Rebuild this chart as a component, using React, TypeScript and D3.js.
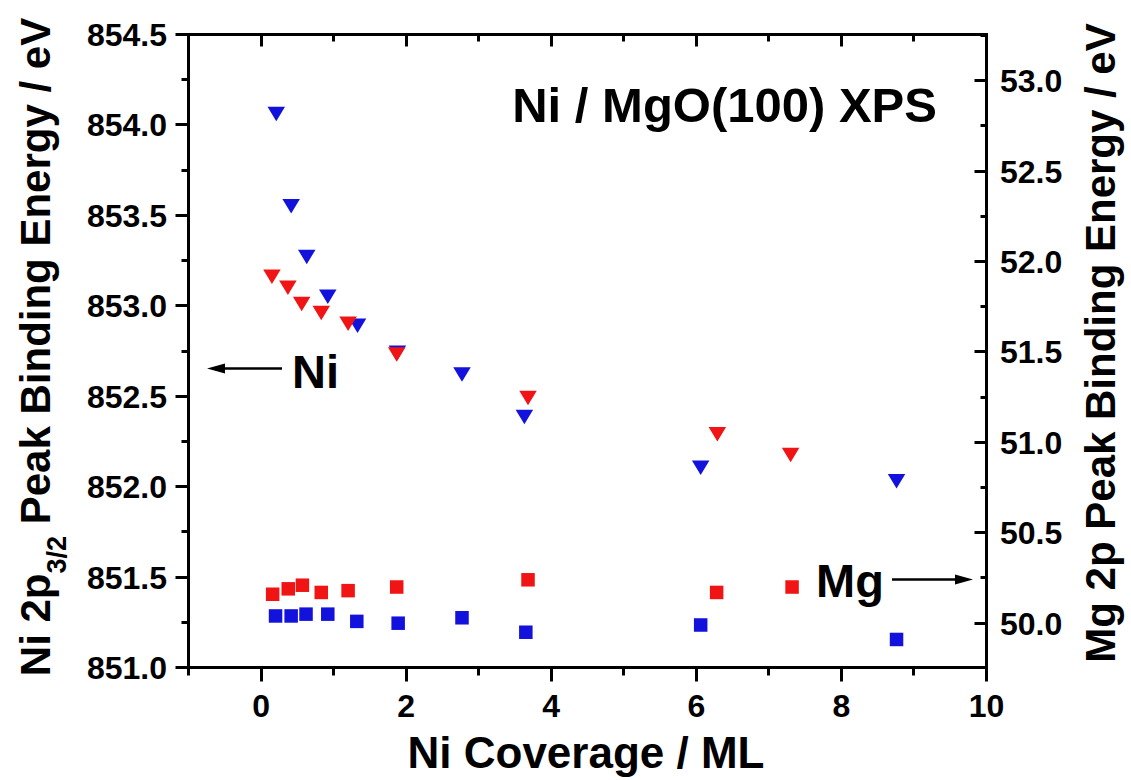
import React from "react";
import * as d3 from "d3";

// Ni 2p3/2 (left axis) – triangles
const blueTriX = [0.21, 0.415, 0.63, 0.92, 1.33, 1.88, 2.77, 3.63, 6.06, 8.76];
const blueTriY = [854.06, 853.55, 853.27, 853.05, 852.89, 852.74, 852.62, 852.385, 852.105, 852.03];
const redTriX = [0.15, 0.37, 0.56, 0.83, 1.2, 1.87, 3.68, 6.29, 7.3];
const redTriY = [853.16, 853.1, 853.01, 852.96, 852.9, 852.73, 852.49, 852.29, 852.175];

// Mg 2p (right axis) – squares
const redSqX = [0.16, 0.375, 0.57, 0.83, 1.2, 1.87, 3.68, 6.28, 7.32];
const redSqY = [50.16, 50.19, 50.21, 50.17, 50.18, 50.2, 50.24, 50.17, 50.2];
const blueSqX = [0.2, 0.415, 0.62, 0.92, 1.32, 1.89, 2.77, 3.65, 6.06, 8.76];
const blueSqY = [50.04, 50.04, 50.05, 50.05, 50.01, 50.0, 50.03, 49.95, 49.99, 49.91];

const xTicks = [0, 2, 4, 6, 8, 10];
const leftTicks = [851.0, 851.5, 852.0, 852.5, 853.0, 853.5, 854.0, 854.5];
const rightTicks = [50.0, 50.5, 51.0, 51.5, 52.0, 52.5, 53.0];

const RED = "#f01414";
const BLUE = "#1212dc";
const FONT = "'Liberation Sans', Arial, Helvetica, sans-serif";

const crisp = (v: number) => Math.round(v - 0.5) + 0.5;

export default function App() {
  const L = 188.5, R = 986.5, T = 34.5, B = 667.5;
  const x = d3.scaleLinear().domain([-1, 10]).range([L, R]);
  const yL = d3.scaleLinear().domain([851, 854.5]).range([B, T]);
  const yR = d3.scaleLinear().domain([49.755, 53.255]).range([B, T]);

  const xMinor = d3.range(-1, 10.001, 1);
  const lMinor = d3.range(851, 854.501, 0.25);
  const rMinor = d3.range(49.75, 53.26, 0.25).filter((v) => yR(v) >= T - 0.5 && yR(v) <= B + 0.5);

  const triW = 17.5, triH = 14.5, sq = 13.5;
  const tri = (cx: number, cy: number) =>
    `M${cx - triW / 2},${cy - triH / 2}L${cx + triW / 2},${cy - triH / 2}L${cx},${cy + triH / 2}Z`;

  const axisW = 3;
  return (
    <svg
      width={1131}
      height={780}
      style={{ position: "absolute", left: 0, top: 0, background: "#fff" }}
      fontFamily={FONT}
      fontWeight="bold"
    >
      <rect x={0} y={0} width={1131} height={780} fill="#fff" />
      {/* frame */}
      <rect x={L} y={T} width={R - L} height={B - T} fill="none" stroke="#000" strokeWidth={axisW} />

      {/* bottom ticks (outward) + top ticks (inward) */}
      {xMinor.map((v) => {
        const major = Math.abs(v % 2) < 1e-6;
        const len = major ? 14 : 8;
        const px = crisp(x(v));
        return (
          <g key={"xt" + v}>
            <line x1={px} x2={px} y1={B} y2={B + len} stroke="#000" strokeWidth={axisW} />
            <line x1={px} x2={px} y1={T} y2={T + (major ? 12 : 7)} stroke="#000" strokeWidth={axisW} />
          </g>
        );
      })}
      {xTicks.map((v) => (
        <text key={"xl" + v} x={x(v)} y={717} textAnchor="middle" fontSize={32}>
          {v}
        </text>
      ))}

      {/* left ticks (outward) */}
      {lMinor.map((v) => {
        const major = Math.abs((v * 2) % 1) < 1e-6;
        const py = crisp(yL(v));
        return (
          <line key={"lt" + v} x1={L - (major ? 13 : 7)} x2={L} y1={py} y2={py} stroke="#000" strokeWidth={axisW} />
        );
      })}
      {leftTicks.map((v) => (
        <text key={"ll" + v} x={167} y={yL(v) + 11.5} textAnchor="end" fontSize={32}>
          {v.toFixed(1)}
        </text>
      ))}

      {/* right ticks (inward) */}
      {rMinor.map((v) => {
        const major = Math.abs((v * 2) % 1) < 1e-6;
        const py = crisp(yR(v));
        return (
          <line key={"rt" + v} x1={R - (major ? 12 : 6)} x2={R} y1={py} y2={py} stroke="#000" strokeWidth={axisW} />
        );
      })}
      {rightTicks.map((v) => (
        <text key={"rl" + v} x={1000} y={yR(v) + 11.5} textAnchor="start" fontSize={32}>
          {v.toFixed(1)}
        </text>
      ))}

      {/* axis titles */}
      <text x={586} y={768} textAnchor="middle" fontSize={44}>
        Ni Coverage / ML
      </text>
      <text transform={`translate(50,347) rotate(-90)`} textAnchor="middle" fontSize={42}>
        Ni 2p
        <tspan fontSize={27} dy={16}>3/2</tspan>
        <tspan dy={-16}> Peak Binding Energy / eV</tspan>
      </text>
      <text transform={`translate(1115,343) rotate(-90)`} textAnchor="middle" fontSize={42}>
        Mg 2p Peak Binding Energy / eV
      </text>

      {/* inner title */}
      <text x={937} y={122} textAnchor="end" fontSize={49}>
        Ni / MgO(100) XPS
      </text>

      {/* data */}
      {blueSqX.map((v, i) => (
        <rect key={"bs" + i} x={x(v) - sq / 2} y={yR(blueSqY[i]) - sq / 2} width={sq} height={sq} fill={BLUE} />
      ))}
      {redSqX.map((v, i) => (
        <rect key={"rs" + i} x={x(v) - sq / 2} y={yR(redSqY[i]) - sq / 2} width={sq} height={sq} fill={RED} />
      ))}
      {blueTriX.map((v, i) => (
        <path key={"bt" + i} d={tri(x(v), yL(blueTriY[i]))} fill={BLUE} />
      ))}
      {redTriX.map((v, i) => (
        <path key={"rt" + i} d={tri(x(v), yL(redTriY[i]))} fill={RED} />
      ))}

      {/* annotations */}
      <text x={292} y={388} fontSize={47}>Ni</text>
      <line x1={282} x2={220} y1={368.5} y2={368.5} stroke="#000" strokeWidth={2.5} />
      <path d="M207,368.5L225,363.5L225,373.5Z" fill="#000" />

      <text x={816} y={597} fontSize={47}>Mg</text>
      <line x1={892} x2={958} y1={579.5} y2={579.5} stroke="#000" strokeWidth={2.5} />
      <path d="M973,579.5L955,574.5L955,584.5Z" fill="#000" />
    </svg>
  );
}
